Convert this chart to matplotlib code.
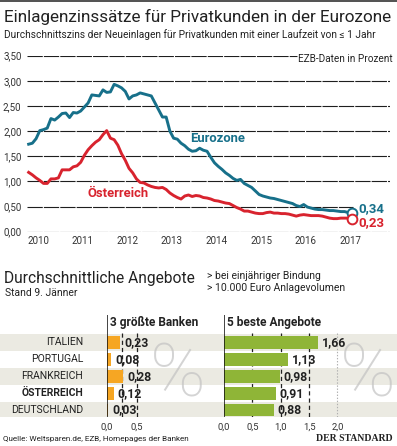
import matplotlib
matplotlib.use('Agg')
import matplotlib.pyplot as plt
import numpy as np
from matplotlib.lines import Line2D

plt.rcParams['font.family'] = ['Roboto', 'DejaVu Sans']
plt.rcParams['lines.scale_dashes'] = False

# ---------------- data ----------------
X_START = 2009.79  # first monthly observation (fractional year)
EUROZONE = [1.74, 1.76, 1.85, 2.01, 2.03, 2.06, 2.25, 2.22, 2.28, 2.35,
            2.36, 2.27, 2.37, 2.36, 2.40, 2.48, 2.56, 2.72, 2.71, 2.70,
            2.82, 2.77, 2.78, 2.93, 2.90, 2.86, 2.79, 2.64, 2.70, 2.72,
            2.76, 2.74, 2.72, 2.70, 2.56, 2.42, 2.28, 2.28, 2.00, 1.86,
            1.84, 1.76, 1.71, 1.64, 1.60, 1.61, 1.66, 1.62, 1.60, 1.48,
            1.37, 1.30, 1.24, 1.17, 1.12, 1.06, 1.02, 1.04, 0.96, 0.92,
            0.88, 0.81, 0.74, 0.71, 0.69, 0.67, 0.66, 0.64, 0.62, 0.60,
            0.58, 0.56, 0.52, 0.50, 0.54, 0.49, 0.47, 0.45, 0.44, 0.44,
            0.43, 0.42, 0.42, 0.41, 0.40, 0.40, 0.38, 0.37]
OESTERREICH = [1.18, 1.13, 1.07, 1.02, 0.96, 0.96, 1.05, 1.05, 1.07, 1.23,
               1.23, 1.23, 1.29, 1.31, 1.38, 1.52, 1.63, 1.71, 1.78, 1.83,
               1.93, 2.01, 1.86, 1.83, 1.72, 1.55, 1.42, 1.26, 1.17, 1.05,
               0.98, 0.97, 0.93, 0.90, 0.88, 0.87, 0.88, 0.84, 0.77, 0.72,
               0.68, 0.65, 0.71, 0.73, 0.70, 0.72, 0.71, 0.68, 0.67, 0.65,
               0.62, 0.61, 0.59, 0.57, 0.56, 0.52, 0.48, 0.45, 0.41, 0.41,
               0.39, 0.37, 0.36, 0.36, 0.38, 0.39, 0.37, 0.37, 0.36, 0.36,
               0.35, 0.33, 0.31, 0.33, 0.34, 0.33, 0.32, 0.32, 0.32, 0.31,
               0.29, 0.27, 0.26, 0.26, 0.27, 0.27, 0.27, 0.26]
LAST_LABELS = ['0,34', '0,23']
YEARS = [2010, 2011, 2012, 2013, 2014, 2015, 2016, 2017]
Y_GRID = [0.0, 0.5, 1.0, 1.5, 2.0, 2.5, 3.0, 3.5]

COUNTRIES = ['ITALIEN', 'PORTUGAL', 'FRANKREICH', 'ÖSTERREICH', 'DEUTSCHLAND']
BIG3 = [0.23, 0.08, 0.28, 0.12, 0.03]
BEST5 = [1.66, 1.13, 0.98, 0.91, 0.88]
BIG3_TICKS = [0.0, 0.5]
BEST5_TICKS = [0.0, 0.5, 1.0, 1.5, 2.0]

# ---------------- style ----------------
W, H = 397, 446
C_EURO = '#17708a'
C_AT = '#d8232e'
C_ORANGE = '#f6a623'
C_GREEN = '#8fb537'
C_TEXT = '#222222'
C_STRIPE = '#ebeae2'


def fx(x):
    return x / W


def fy(y):
    return 1 - y / H


def fmt(v, d=2):
    return f'{v:.{d}f}'.replace('.', ',')


fig = plt.figure(figsize=(W / 100, H / 100), dpi=100)
fig.patch.set_facecolor('white')
fig.add_artist(Line2D([0, 1], [fy(0.5), fy(0.5)], color='#333333', lw=1.2))

fig.text(fx(4), fy(17), 'Einlagenzinssätze für Privatkunden in der Eurozone',
         fontsize=12.3, color=C_TEXT, va='center', ha='left')
fig.text(fx(4), fy(35), 'Durchschnittszins der Neueinlagen für Privatkunden mit einer Laufzeit von ≤ 1 Jahr',
         fontsize=7.3, color=C_TEXT, va='center', ha='left')

# ---------------- line chart ----------------
ax = fig.add_axes([fx(27), fy(231.7), (390 - 27) / W, (231.7 - 55.7) / H])
ax.set_xlim(2009.753, 2017.892)
ax.set_ylim(0, 3.5)
for s in ax.spines.values():
    s.set_visible(False)
for v in Y_GRID:
    xmax = 1.0
    if v == 3.5:
        xmax = (297 - 27) / 363
    elif v == 0.5:
        xmax = (353 - 27) / 363
    ax.axhline(v, xmax=xmax, color='#1e1e1e', lw=0.8, ls=(0, (11, 0.8)), zorder=1)

x = X_START + np.arange(len(EUROZONE)) / 12
ax.plot(x, EUROZONE, color=C_EURO, lw=2.1, zorder=3, solid_joinstyle='round', clip_on=False)
ax.plot(x, OESTERREICH, color=C_AT, lw=2.1, zorder=3, solid_joinstyle='round', clip_on=False)
ax.plot(x[-1], EUROZONE[-1], 'o', ms=7, mfc='white', mec=C_EURO, mew=1.4, zorder=4, clip_on=False)
ax.plot(x[-1], OESTERREICH[-1], 'o', ms=7, mfc='white', mec=C_AT, mew=1.4, zorder=4, clip_on=False)

ax.set_yticks(Y_GRID)
ax.set_yticklabels([fmt(v) for v in Y_GRID])
ax.set_xticks(YEARS)
ax.set_xticklabels([str(y) for y in YEARS])
ax.tick_params(length=0, labelsize=7, colors='#333333')
ax.tick_params(axis='y', pad=4)
ax.tick_params(axis='x', pad=3)

ax.annotate(LAST_LABELS[0], (x[-1], EUROZONE[-1]), xytext=(4.5, 3), textcoords='offset points',
            color=C_EURO, fontsize=9.5, fontweight='bold', va='center', ha='left')
ax.annotate(LAST_LABELS[1], (x[-1], OESTERREICH[-1]), xytext=(4.5, -3), textcoords='offset points',
            color=C_AT, fontsize=9.5, fontweight='bold', va='center', ha='left')

fig.text(fx(190), fy(139), 'Eurozone', color=C_EURO, fontsize=9.4, fontweight='bold', va='center')
fig.text(fx(88), fy(194), 'Österreich', color=C_AT, fontsize=9.4, fontweight='bold', va='center')
fig.text(fx(393), fy(59), 'EZB-Daten in Prozent', color=C_TEXT, fontsize=7.2, ha='right', va='center')

# ---------------- bottom section ----------------
fig.text(fx(4), fy(279), 'Durchschnittliche Angebote', fontsize=11.2, color=C_TEXT, va='center')
fig.text(fx(5), fy(293), 'Stand 9. Jänner', fontsize=7.5, color=C_TEXT, va='center')
fig.text(fx(207), fy(276), '> bei einjähriger Bindung', fontsize=7.5, color=C_TEXT, va='center')
fig.text(fx(207), fy(288), '> 10.000 Euro Anlagevolumen', fontsize=7.5, color=C_TEXT, va='center')

ROW_TOP, ROW_BOT = -1.62, 4.41
bottom_frac = fy(417)
height_frac = (417 - 315) / H

bg = fig.add_axes([0, bottom_frac, 1, height_frac], zorder=-1)
bg.set_xlim(0, W)
bg.set_ylim(ROW_BOT, ROW_TOP)
bg.axis('off')
for i in range(0, len(COUNTRIES), 2):
    bg.axhspan(i - 0.49, i + 0.49, color=C_STRIPE, lw=0)
for xc in (178, 368):
    bg.text(xc, 2.0, '%', fontsize=54, color='#c2c2c2', alpha=0.7, ha='center', va='center',
            fontfamily='Roboto', fontweight='light')

for i, c in enumerate(COUNTRIES):
    bg.text(83, i, c, ha='right', va='center', fontsize=7.5, color=C_TEXT,
            fontweight='bold' if c == 'ÖSTERREICH' else 'normal')


def bar_panel(left_px, px_per_unit, xmax, values, color, ticks, grid, title, light=None):
    a = fig.add_axes([fx(left_px), bottom_frac, px_per_unit * xmax / W, height_frac])
    a.set_facecolor('none')
    a.set_xlim(0, xmax)
    a.set_ylim(ROW_BOT, ROW_TOP)
    for s in a.spines.values():
        s.set_visible(False)
    a.axvline(0, color='#111111', lw=1.1, zorder=3)
    for g in grid:
        a.vlines(g, -0.55, ROW_BOT, color='#222222', lw=0.9, ls=(0, (3, 2.2)), zorder=1)
    if light is not None:
        a.vlines(light, -0.55, ROW_BOT, color='#b0b0b0', lw=0.8, ls=(0, (1, 1.2)), zorder=1)
    rows = np.arange(len(values))
    a.barh(rows, values, height=0.76, color=color, zorder=2)
    for r, v in zip(rows, values):
        a.annotate(fmt(v), (v, r), xytext=(2.5, 0), textcoords='offset points',
                   va='center', ha='left', fontsize=8.8, fontweight='bold', color=C_TEXT,
                   annotation_clip=False)
    a.set_yticks([])
    a.set_xticks(ticks)
    a.set_xticklabels([fmt(t, 1) for t in ticks])
    a.tick_params(axis='x', length=0, labelsize=6.8, colors='#333333', pad=4)
    a.text(0, -1.15, ' ' + title, ha='left', va='center', fontsize=8.6, fontweight='bold', color=C_TEXT)
    return a


bar_panel(106.7, 60.0, 1.0, BIG3, C_ORANGE, BIG3_TICKS, [0.25, 0.5], '3 größte Banken')
bar_panel(224.0, 56.7, 2.2, BEST5, C_GREEN, BEST5_TICKS, [0.5, 1.0, 1.5], '5 beste Angebote', light=2.0)

fig.text(fx(3), fy(438.5), 'Quelle: Weltsparen.de, EZB, Homepages der Banken', fontsize=5.9,
         color=C_TEXT, va='center')
fig.text(fx(393), fy(438.5), 'DER STANDARD', fontsize=7, color=C_TEXT, va='center', ha='right',
         fontfamily='Liberation Serif', fontweight='bold')

fig.savefig('out.png', dpi=100, facecolor='white')
